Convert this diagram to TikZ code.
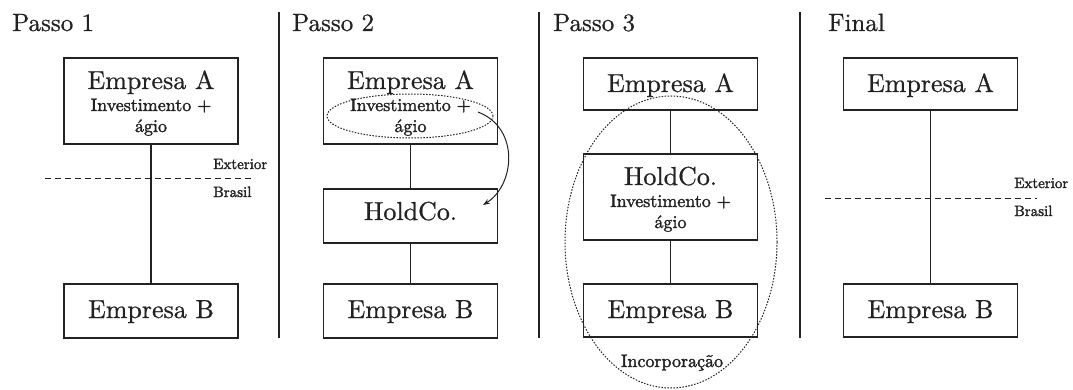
\documentclass[tikz,border=0pt]{standalone}
\usepackage{fontspec}
\usetikzlibrary{arrows.meta,shapes.geometric}
\newfontfamily\hvA{lmroman10-regular.otf}[RawFeature={embolden=0.7}]
\newfontfamily\hvB{lmroman10-regular.otf}[RawFeature={embolden=1.9}]
\definecolor{ink}{HTML}{222222}
\begin{document}
\begin{tikzpicture}[x=1pt,y=-1pt,
  every node/.style={text=ink},
  box/.style={draw=ink, line width=1.1pt, minimum width=174pt, inner sep=0pt},
  big/.style={inner sep=0pt, anchor=base, font=\hvA\fontsize{26}{28}\selectfont},
  mid/.style={inner sep=0pt, anchor=base, font=\hvB\fontsize{18}{20}\selectfont},
  sml/.style={inner sep=0pt, anchor=base west, font=\hvB\fontsize{15}{17}\selectfont},
  title/.style={inner sep=0pt, anchor=base west, font=\hvA\fontsize{25}{27}\selectfont},
  link/.style={draw=ink, line width=1.1pt},
  divider/.style={draw=ink, line width=1.1pt},
  border/.style={draw=ink, line width=0.9pt, dash pattern=on 6pt off 4pt},
  circ/.style={draw=ink, line width=1pt, dash pattern=on 1.5pt off 1.5pt}]
\useasboundingbox (0,0) rectangle (1073,390);

% dividers
\coordinate (d1t) at (279,12); \coordinate (d1b) at (279,338);
\coordinate (d2t) at (539,12); \coordinate (d2b) at (539,338);
\coordinate (d3t) at (800,12); \coordinate (d3b) at (800,338);
\draw[divider] (d1t) -- (d1b);
\draw[divider] (d2t) -- (d2b);
\draw[divider] (d3t) -- (d3b);

% titles
\node[title] (t1) at (12,31) {Passo 1};
\node[title] (t2) at (292,31) {Passo 2};
\node[title] (t3) at (553,31) {Passo 3};
\node[title] (t4) at (828,31) {Final};

% ---------- Passo 1
\node[box, minimum height=86pt] (A1) at (151,101) {};
\node[box, minimum height=54pt] (B1) at (151,311) {};
\node[big] (A1a) at (151,89) {Empresa A};
\node[mid] (A1b) at (151,111) {Investimento +};
\node[mid] (A1c) at (151,132) {ágio};
\node[big] (B1a) at (151,318) {Empresa B};
\draw[link] (A1) -- (B1);
\coordinate (e1l) at (45,178); \coordinate (e1r) at (255,178);
\draw[border] (e1l) -- (e1r);
\node[sml] (ext1) at (213,169) {Exterior};
\node[sml] (bra1) at (213,197) {Brasil};

% ---------- Passo 2
\node[box, minimum height=86pt] (A2) at (410.5,101) {};
\node[box, minimum height=54pt] (H2) at (410.5,216) {};
\node[box, minimum height=54pt] (B2) at (410.5,311) {};
\node[big] (A2a) at (410.5,89) {Empresa A};
\node[mid] (A2b) at (410.5,111) {Investimento +};
\node[mid] (A2c) at (410.5,132) {ágio};
\node[big] (H2a) at (410.5,220) {HoldCo.};
\node[big] (B2a) at (410.5,318) {Empresa B};
\draw[link] (A2) -- (H2);
\draw[link] (H2) -- (B2);
\node[circ, ellipse, minimum width=166pt, minimum height=44pt, inner sep=0pt] (E2) at (410,116) {};
\coordinate (s2) at (478,112);
\coordinate (f2) at (483,205);
\draw[draw=ink, line width=1pt, -{Stealth[length=7pt,width=5pt]}] (s2) .. controls (520,128) and (515,185) .. (f2);

% ---------- Passo 3
\node[box, minimum height=52pt] (A3) at (670.5,84) {};
\node[box, minimum height=86pt] (H3) at (670.5,197) {};
\node[box, minimum height=53pt] (B3) at (670.5,310.5) {};
\node[big] (A3a) at (670.5,92) {Empresa A};
\node[big] (H3a) at (670.5,185) {HoldCo.};
\node[mid] (H3b) at (670.5,207) {Investimento +};
\node[mid] (H3c) at (670.5,228) {ágio};
\node[big] (B3a) at (670.5,318) {Empresa B};
\draw[link] (A3) -- (H3);
\draw[link] (H3) -- (B3);
\node[circ, ellipse, minimum width=212pt, minimum height=292pt, inner sep=0pt] (E3) at (671,242) {};
\node[mid] (inc) at (672,367) {Incorporação};

% ---------- Final
\node[box, minimum height=52pt] (A4) at (930.5,84) {};
\node[box, minimum height=53pt] (B4) at (930.5,310.5) {};
\node[big] (A4a) at (930.5,92) {Empresa A};
\node[big] (B4a) at (930.5,318) {Empresa B};
\draw[link] (A4) -- (B4);
\coordinate (e4l) at (825,198); \coordinate (e4r) at (1037,198);
\draw[border] (e4l) -- (e4r);
\node[sml] (ext4) at (1014,188) {Exterior};
\node[sml] (bra4) at (1014,216) {Brasil};
\end{tikzpicture}
\end{document}
